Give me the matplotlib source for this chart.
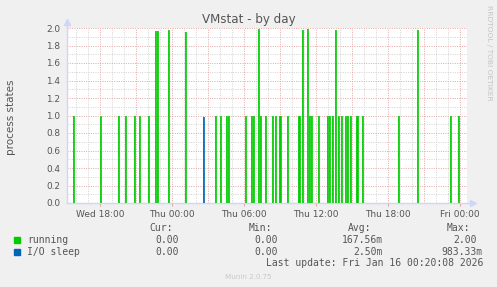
import matplotlib
matplotlib.use("Agg")
import matplotlib.pyplot as plt
from matplotlib.patches import Rectangle

# hours since Wed 00:00, one 5 minute sample per spike
running_t = [15.75, 18.0, 19.5, 20.083, 20.833, 21.25, 22.0, 22.583, 22.75,
             23.667, 25.083, 27.583, 28.0, 28.5, 28.667, 30.083, 30.583, 30.75,
             31.167, 31.333, 31.75, 32.333, 32.583, 32.917, 33.0, 33.583,
             34.5, 34.583, 34.833, 35.25, 35.417, 35.583, 36.167, 36.917,
             37.083, 37.333, 37.583, 37.833, 38.083, 38.417, 38.583, 38.833,
             39.333, 39.417, 39.833, 42.833, 44.417, 47.167, 47.833]
running_v = [1.0, 1.0, 1.0, 1.0, 1.0, 1.0, 1.0, 1.97, 1.97,
             1.98, 1.96, 1.0, 1.0, 1.0, 1.0, 1.0, 1.0, 1.0,
             1.99, 1.0, 1.0, 1.0, 1.0, 1.0, 1.0, 1.0,
             1.0, 1.0, 1.98, 1.99, 1.0, 1.0, 1.0, 1.0,
             1.0, 1.0, 1.98, 1.0, 1.0, 1.0, 1.0, 1.0,
             1.0, 1.0, 1.0, 1.0, 1.98, 1.0, 1.0]
iosleep_t = [26.583]
iosleep_v = [0.98]

x_ticks = [18, 24, 30, 36, 42, 48]
x_labels = ["Wed 18:00", "Thu 00:00", "Thu 06:00", "Thu 12:00", "Thu 18:00", "Fri 00:00"]
y_ticks = [0.0, 0.2, 0.4, 0.6, 0.8, 1.0, 1.2, 1.4, 1.6, 1.8, 2.0]

legend_names = ["running", "I/O sleep"]
legend_colors = ["#00cc00", "#0066b3"]
cur_vals = ["0.00", "0.00"]
min_vals = ["0.00", "0.00"]
avg_vals = ["167.56m", "2.50m"]
max_vals = ["2.00", "983.33m"]

t_start, t_end = 15.25, 48.583
t_last = 48.333
step = 5 / 60

W, H = 497, 287
fg = "#555555"
axis_col = "#cfd6f8"
grid_minor = "#d2d2d2"
grid_major = "#e2a6a6"


def spike_path(times, values):
    xs, ys = [t_start], [0.0]
    for t, v in zip(times, values):
        xs += [t, t, t + step, t + step]
        ys += [0.0, v, v, 0.0]
    xs.append(t_last)
    ys.append(0.0)
    return xs, ys


fig = plt.figure(figsize=(W / 100, H / 100), dpi=100, facecolor="#f0f0f0")
ax = fig.add_axes([67 / W, 1 - 203 / H, 400 / W, 175 / H])
ax.set_facecolor("white")
ax.set_xlim(t_start, t_end)
ax.set_ylim(0, 2.0)

# grid: minor grey every hour / 0.1, major red every 3 h / 0.2
dots = (0, (1, 1.4))
for h in range(16, 49):
    if h % 3:
        ax.axvline(h, color=grid_minor, lw=0.7, ls=dots, zorder=1)
for i in range(1, 20, 2):
    ax.axhline(i / 10, color=grid_minor, lw=0.7, ls=dots, zorder=1)
for h in range(18, 49, 3):
    ax.axvline(h, color=grid_major, lw=0.7, ls=dots, zorder=1)
for y in y_ticks[1:]:
    ax.axhline(y, color=grid_major, lw=0.7, ls=dots, zorder=1)

xs, ys = spike_path(running_t, running_v)
ax.fill(xs, ys, color="#8ee48e", lw=0, zorder=2)
ax.plot(xs, ys, color=legend_colors[0], lw=0.6, zorder=3)
xs, ys = spike_path(iosleep_t, iosleep_v)
ax.fill(xs, ys, color="#7fb2d9", lw=0, zorder=2)
ax.plot(xs, ys, color=legend_colors[1], lw=0.6, zorder=4)

for s in ax.spines.values():
    s.set_visible(False)
ax.plot([0, 1.012], [0, 0], transform=ax.transAxes, color=axis_col, lw=1, clip_on=False, zorder=2)
ax.plot([0, 0], [0, 1.03], transform=ax.transAxes, color=axis_col, lw=1, clip_on=False, zorder=2)
ax.plot([1.015], [0], transform=ax.transAxes, marker=">", ms=4, color=axis_col, clip_on=False)
ax.plot([0], [1.035], transform=ax.transAxes, marker="^", ms=4, color=axis_col, clip_on=False)

ax.set_xticks(x_ticks)
ax.set_xticklabels(x_labels)
ax.set_yticks(y_ticks)
ax.set_yticklabels(["%.1f" % v for v in y_ticks])
ax.tick_params(axis="x", length=2, color=grid_major, pad=3, labelsize=6.5, labelcolor=fg)
ax.tick_params(axis="y", length=0, pad=5, labelsize=6.4, labelcolor=fg)

fig.text(248.5 / W, 1 - 23 / H, "VMstat - by day", ha="center", va="baseline",
         fontsize=8.6, color=fg)
fig.text(11.5 / W, 1 - 117 / H, "process states", rotation=90, ha="center", va="center",
         fontsize=7.5, color=fg)
fig.text(488.5 / W, 1 - 5 / H, "RRDTOOL / TOBI OETIKER", rotation=270, ha="center", va="top",
         fontsize=5.4, color="#c4c4c4")

mono = "DejaVu Sans Mono"
fs = 7.0


def ftext(x, y, s, **kw):
    fig.text(x / W, 1 - y / H, s, family=mono, fontsize=fs, color=fg, va="baseline", **kw)


ftext(149, 231, "Cur:")
ftext(249, 231, "Min:")
ftext(348, 231, "Avg:")
ftext(447, 231, "Max:")
for i, name in enumerate(legend_names):
    y = 243 + 12 * i
    fig.patches.append(Rectangle((14 / W, 1 - (y - 0.5) / H), 6 / W, 6 / H,
                                 transform=fig.transFigure, color=legend_colors[i]))
    ftext(27, y, name)
    ftext(179, y, cur_vals[i], ha="right")
    ftext(278, y, min_vals[i], ha="right")
    ftext(383, y, avg_vals[i], ha="right")
    ftext(477 if max_vals[i][-1] != "m" else 483, y, max_vals[i], ha="right")
ftext(483, 266, "Last update: Fri Jan 16 00:20:08 2026", ha="right")
fig.text(248 / W, 1 - 279 / H, "Munin 2.0.75", ha="center", va="baseline",
         fontsize=5.1, color="#c8c8c8")

fig.savefig("out.png", dpi=100, facecolor=fig.get_facecolor())
